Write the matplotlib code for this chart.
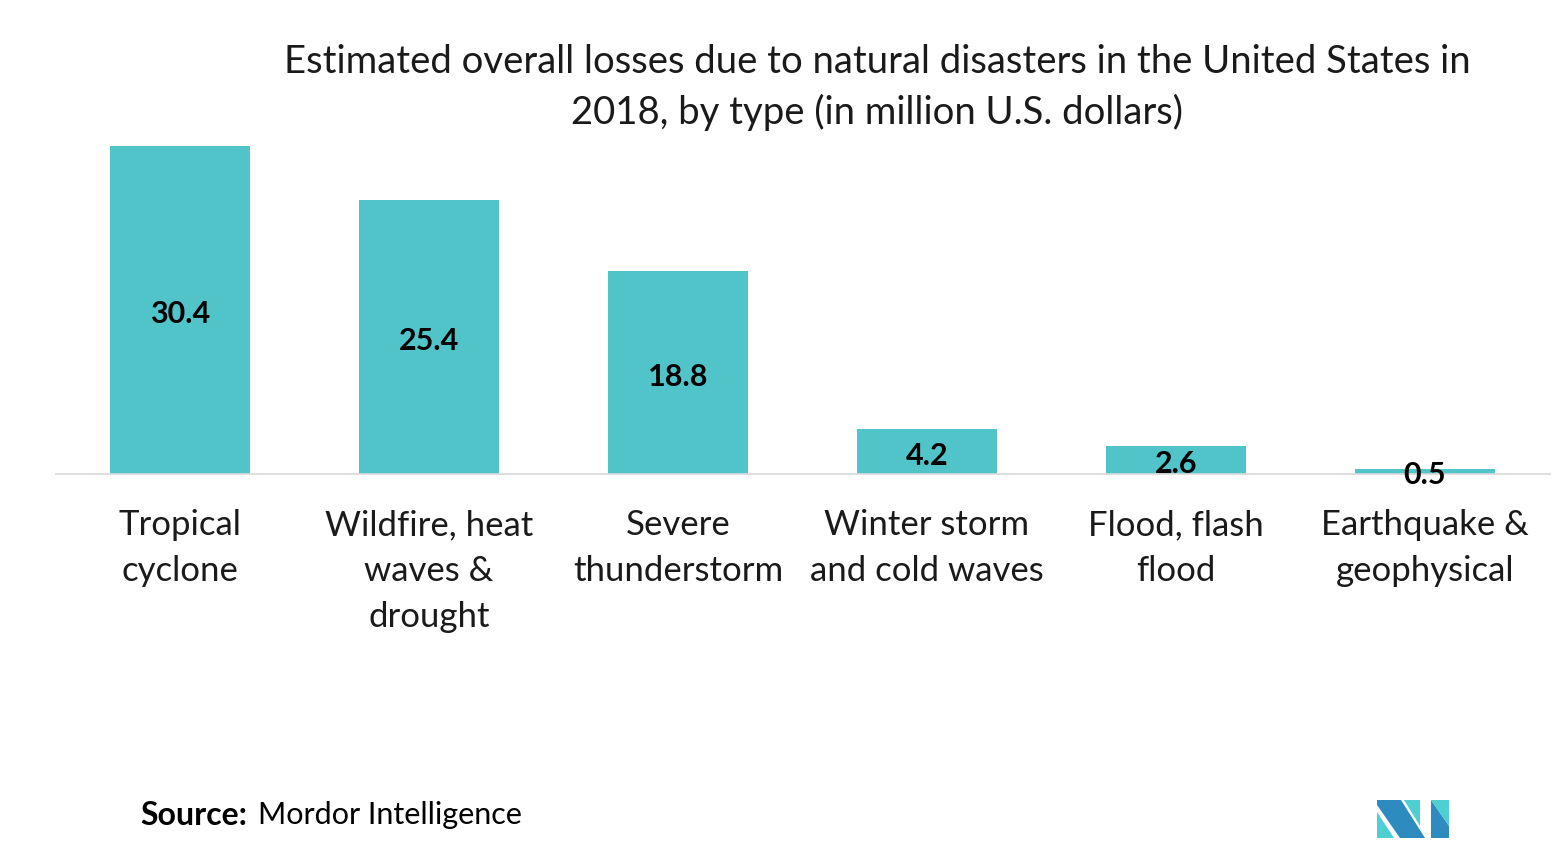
import matplotlib.pyplot as plt
from matplotlib.patches import Polygon

plt.rcParams["font.family"] = ["Lato", "DejaVu Sans"]

# data
categories = ["Tropical\ncyclone", "Wildfire, heat\nwaves &\ndrought", "Severe\nthunderstorm",
              "Winter storm\nand cold waves", "Flood, flash\nflood", "Earthquake &\ngeophysical"]
losses = [30.4, 25.4, 18.8, 4.2, 2.6, 0.5]
value_labels = ["30.4", "25.4", "18.8", "4.2", "2.6", "0.5"]

bar_color = "#50C4C9"

fig = plt.figure(figsize=(15.52, 8.55), dpi=100)
ax = fig.add_axes([55.5 / 1552, (855 - 474) / 855, 1494 / 1552, 328 / 855])

x = range(len(categories))
ax.bar(x, losses, width=0.566, color=bar_color, zorder=2)
ax.set_xlim(-0.5, 5.5)
ax.set_ylim(0, 30.4)

# labels sit at bar middle, nudged a few px down like the original
for i, (v, lab) in enumerate(zip(losses, value_labels)):
    ax.annotate(lab, (i, v / 2), xytext=(0, -3), textcoords="offset points",
                ha="center", va="center", fontsize=22, fontweight="bold",
                color="black", zorder=3, annotation_clip=False)

for s in ["top", "right", "left"]:
    ax.spines[s].set_visible(False)
ax.spines["bottom"].set_color("#d9d9d9")
ax.spines["bottom"].set_linewidth(1.2)
ax.set_yticks([])
ax.set_xticks(list(x))
ax.set_xticklabels(categories, fontsize=25, linespacing=1.53, color="#1a1a1a")
ax.tick_params(axis="x", length=0, pad=25.5)

fig.text(0.565, 1 - 87.5 / 855, "Estimated overall losses due to natural disasters in the United States in\n"
         "2018, by type (in million U.S. dollars)", ha="center", va="center",
         fontsize=27.5, linespacing=1.44, color="#1a1a1a")

fig.text(140 / 1552, 1 - 815 / 855, "Source:", fontsize=23, fontweight="bold", va="center")
fig.text(258 / 1552, 1 - 815 / 855, "Mordor Intelligence", fontsize=22, va="center")

# logo
W, H = 1552, 855
def P(pts, c):
    fig.patches.append(Polygon([(px / W, 1 - py / H) for px, py in pts], closed=True,
                               transform=fig.transFigure, facecolor=c, edgecolor="none"))

P([(1377, 800), (1401, 800), (1425, 838), (1400, 838), (1377, 805)], "#2E8BC0")
P([(1377, 812), (1394, 838), (1377, 838)], "#4DCFD3")
P([(1404, 800), (1420, 800), (1420, 826)], "#4DCFD3")
P([(1431, 800), (1449, 826), (1449, 838), (1431, 838)], "#2E8BC0")
P([(1431, 800), (1449, 800), (1449, 826)], "#4DCFD3")

fig.savefig("out.png", dpi=100)
